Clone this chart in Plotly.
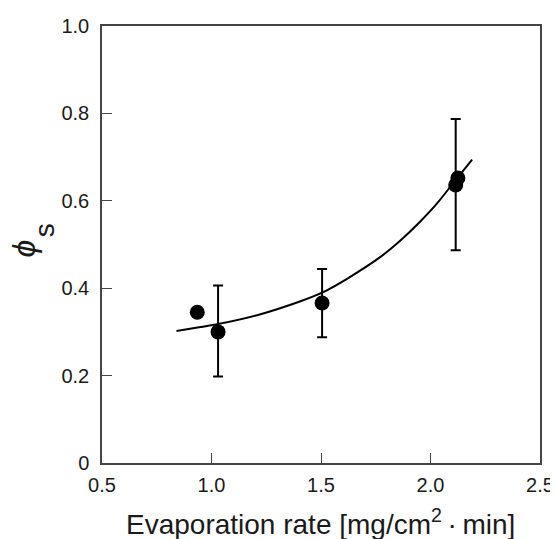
import plotly.graph_objects as go

# measured points (evaporation rate vs phi_s)
rate = [0.935, 1.03, 1.505, 2.115, 2.125]
phi = [0.345, 0.300, 0.366, 0.636, 0.652]
# error bars (upper / lower extents), None where no bar is drawn
err_plus = [None, 0.106, 0.078, 0.151, None]
err_minus = [None, 0.102, 0.078, 0.149, None]

# fitted curve
fit_rate = [0.84, 0.95, 1.03, 1.22, 1.40, 1.51, 1.63, 1.77, 1.86, 1.95, 2.03, 2.10, 2.19]
fit_phi = [0.302, 0.311, 0.318, 0.340, 0.369, 0.391, 0.425, 0.471, 0.508, 0.551, 0.594, 0.638, 0.694]

x_ticks = [0.5, 1.0, 1.5, 2.0, 2.5]
x_labels = ["0.5", "1.0", "1.5", "2.0", "2.5"]
y_ticks = [0, 0.2, 0.4, 0.6, 0.8, 1.0]
y_labels = ["0", "0.2", "0.4", "0.6", "0.8", "1.0"]

with_err = [i for i, e in enumerate(err_plus) if e is not None]
no_err = [i for i, e in enumerate(err_plus) if e is None]

font_name = "Liberation Sans, Arial"

fig = go.Figure()

fig.add_trace(go.Scatter(
    x=fit_rate, y=fit_phi, mode="lines",
    line=dict(color="black", width=2, shape="spline", smoothing=0.6),
    showlegend=False,
))

fig.add_trace(go.Scatter(
    x=[rate[i] for i in with_err], y=[phi[i] for i in with_err],
    mode="markers",
    marker=dict(color="black", size=15),
    error_y=dict(type="data", symmetric=False,
                 array=[err_plus[i] for i in with_err],
                 arrayminus=[err_minus[i] for i in with_err],
                 color="black", thickness=2, width=5),
    showlegend=False,
))

fig.add_trace(go.Scatter(
    x=[rate[i] for i in no_err], y=[phi[i] for i in no_err],
    mode="markers",
    marker=dict(color="black", size=15),
    showlegend=False,
))

axis_common = dict(
    showgrid=False, zeroline=False, automargin=False,
    showline=True, linecolor="#444", linewidth=1.5, mirror=True,
    ticks="inside", ticklen=10, tickwidth=1.2, tickcolor="#444",
    tickfont=dict(family=font_name, size=20, color="#1a1a1a"),
)

fig.update_xaxes(range=[0.5, 2.5], tickvals=x_ticks, ticktext=x_labels,
                 ticklabelstandoff=3, **axis_common)
fig.update_yaxes(range=[0, 1.0], tickvals=y_ticks, ticktext=y_labels,
                 ticklabelstandoff=7, **axis_common)

# axis titles as annotations, placed by hand
fig.add_annotation(
    text="Evaporation rate [mg/cm<sup>2</sup>\u2009\u00b7\u2009min]",
    xref="paper", yref="paper", x=0.498, y=-0.136,
    xanchor="center", yanchor="middle", showarrow=False,
    font=dict(family=font_name, size=28, color="#1a1a1a"),
)
fig.add_annotation(
    text="<i>\u03d5</i>", textangle=-90,
    xref="paper", yref="paper", x=-0.178, y=0.491,
    xanchor="center", yanchor="middle", showarrow=False,
    font=dict(family=font_name, size=32, color="#1a1a1a"),
)
fig.add_annotation(
    text="s", textangle=-90,
    xref="paper", yref="paper", x=-0.132, y=0.533,
    xanchor="center", yanchor="middle", showarrow=False,
    font=dict(family=font_name, size=28, color="#1a1a1a"),
)

# the page body adds an 8px offset, so the figure is a bit smaller than the window
fig.update_layout(
    width=550, height=531,
    margin=dict(l=94, r=18, t=18, b=76),
    plot_bgcolor="white", paper_bgcolor="white",
)

fig.write_html("out.html")
